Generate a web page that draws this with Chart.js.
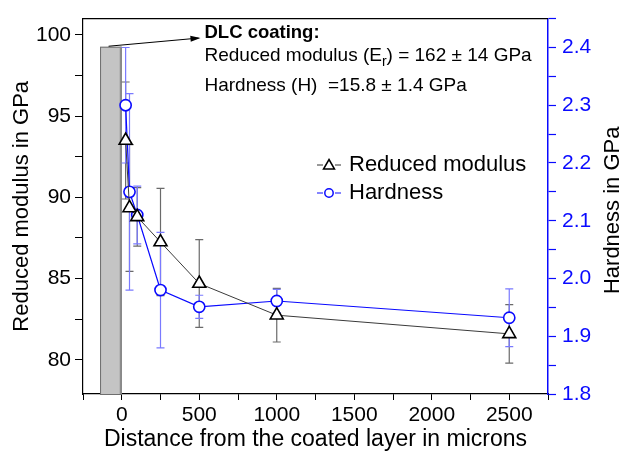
<!DOCTYPE html>
<html lang="en">
<head>
    <meta charset="UTF-8">
    <title>Reduced modulus and hardness vs distance</title>
    <script src="https://cdn.jsdelivr.net/npm/chart.js"></script>
    <style>
        html, body { margin: 0; padding: 0; background: #fff; }
        #wrap { width: 630px; height: 454px; }
    </style>
</head>
<body>
    <div id="wrap"><canvas id="chart" width="630" height="454"></canvas></div>

    <script>
        // distances from the coated layer (microns)
        const modX = [25, 50, 100, 250, 500, 1000, 2500];
        const hardX = [25, 50, 100, 250, 500, 1000, 2500];

        // reduced modulus (GPa) and its error
        const modulus = [93.5, 89.35, 88.8, 87.25, 84.7, 82.75, 81.6];
        const modErr = [3.6, 3.9, 1.8, 3.3, 2.7, 1.65, 1.8];

        // hardness (GPa) and its error
        const hardness = [2.30, 2.15, 2.11, 1.98, 1.951, 1.961, 1.932];
        const hardErr = [0.10, 0.17, 0.05, 0.10, 0.02, 0.02, 0.05];

        // coating block: x from / to (microns), top (GPa on left axis)
        const coatBox = [-140, 0, 99.27];
        // arrow from coating block to the note: [x0, y0, x1, y1]
        const coatArrow = [-85, 99.3, 495, 99.8];

        const FONT = '"Liberation Sans", Arial, sans-serif';
        const BLUE = '#0a0aff';

        const toPts = (xs, ys) => xs.map((v, i) => ({ x: v, y: ys[i] }));

        const isStep = (v, step) => Math.abs(v / step - Math.round(v / step)) < 1e-6;

        const extras = {
            id: 'extras',
            beforeDatasetsDraw(chart) {
                const { ctx, scales: { x, y } } = chart;
                // gray coating block
                const x0 = x.getPixelForValue(coatBox[0]);
                const x1 = x.getPixelForValue(coatBox[1]);
                const yt = y.getPixelForValue(coatBox[2]);
                const yb = chart.chartArea.bottom;
                ctx.save();
                ctx.fillStyle = '#c4c4c4';
                ctx.fillRect(x0, yt, x1 - x0, yb - yt);
                ctx.strokeStyle = '#6e6e6e';
                ctx.lineWidth = 1;
                ctx.strokeRect(x0 + 0.5, yt + 0.5, x1 - x0 - 1, yb - yt);
                ctx.fillStyle = '#8c8c8c';
                ctx.fillRect(x1 - 2, yt, 2, yb - yt);
                ctx.restore();

                // error bars
                chart.data.datasets.forEach((ds, i) => {
                    const sc = chart.scales[ds.yAxisID];
                    ctx.save();
                    ctx.strokeStyle = ds.errColor;
                    ctx.lineWidth = 1.2;
                    ds.data.forEach((p, j) => {
                        const px = x.getPixelForValue(p.x);
                        const hi = sc.getPixelForValue(p.y + ds.err[j]);
                        const lo = sc.getPixelForValue(p.y - ds.err[j]);
                        ctx.beginPath();
                        ctx.moveTo(px, hi); ctx.lineTo(px, lo);
                        ctx.moveTo(px - 4, hi); ctx.lineTo(px + 4, hi);
                        ctx.moveTo(px - 4, lo); ctx.lineTo(px + 4, lo);
                        ctx.stroke();
                    });
                    ctx.restore();
                });
            },
            afterDraw(chart) {
                const { ctx, chartArea: a, scales: { x, y } } = chart;
                ctx.save();
                // top frame
                ctx.strokeStyle = '#000';
                ctx.lineWidth = 1.2;
                ctx.beginPath();
                ctx.moveTo(a.left, a.top); ctx.lineTo(a.right, a.top);
                ctx.stroke();

                // right axis title, reads bottom to top
                ctx.save();
                ctx.translate(613, (a.top + a.bottom) / 2 + 4);
                ctx.rotate(-Math.PI / 2);
                ctx.textAlign = 'center';
                ctx.textBaseline = 'middle';
                ctx.fillStyle = '#000';
                ctx.font = '22px ' + FONT;
                ctx.fillText('Hardness in GPa', 0, 0);
                ctx.restore();

                // arrow
                const ax0 = x.getPixelForValue(coatArrow[0]);
                const ay0 = y.getPixelForValue(coatArrow[1]);
                const ax1 = x.getPixelForValue(coatArrow[2]);
                const ay1 = y.getPixelForValue(coatArrow[3]);
                ctx.strokeStyle = '#000';
                ctx.lineWidth = 1;
                ctx.beginPath();
                ctx.moveTo(ax0, ay0); ctx.lineTo(ax1, ay1);
                ctx.stroke();
                const ang = Math.atan2(ay1 - ay0, ax1 - ax0);
                ctx.fillStyle = '#000';
                ctx.beginPath();
                ctx.moveTo(ax1 + 2, ay1);
                ctx.lineTo(ax1 - 8 * Math.cos(ang) + 3 * Math.sin(ang), ay1 - 8 * Math.sin(ang) - 3 * Math.cos(ang));
                ctx.lineTo(ax1 - 8 * Math.cos(ang) - 3 * Math.sin(ang), ay1 - 8 * Math.sin(ang) + 3 * Math.cos(ang));
                ctx.closePath();
                ctx.fill();

                // note text
                const tx = ax1 + 6;
                ctx.textBaseline = 'middle';
                ctx.textAlign = 'left';
                ctx.font = 'bold 18.5px ' + FONT;
                ctx.fillText('DLC coating:', tx, 33);
                ctx.font = '19px ' + FONT;
                let s = 'Reduced modulus (E';
                ctx.fillText(s, tx, 56);
                let w = ctx.measureText(s).width;
                ctx.font = '14px ' + FONT;
                ctx.fillText('r', tx + w, 62);
                w += ctx.measureText('r').width;
                ctx.font = '19px ' + FONT;
                ctx.fillText(') = 162 \u00b1 14 GPa', tx + w, 56);
                ctx.fillText('Hardness (H)  =15.8 \u00b1 1.4 GPa', tx, 86);

                // legend
                const lx = 329;
                const rows = [
                    { y: 165, text: 'Reduced modulus', color: '#333', mark: 'tri', mc: '#000' },
                    { y: 193, text: 'Hardness', color: BLUE, mark: 'circ', mc: BLUE }
                ];
                rows.forEach(r => {
                    ctx.strokeStyle = r.color;
                    ctx.lineWidth = 1;
                    ctx.beginPath();
                    ctx.moveTo(lx - 12, r.y); ctx.lineTo(lx - 6, r.y);
                    ctx.moveTo(lx + 6, r.y); ctx.lineTo(lx + 12, r.y);
                    ctx.stroke();
                    ctx.strokeStyle = r.mc;
                    ctx.lineWidth = 1.5;
                    ctx.fillStyle = '#fff';
                    ctx.beginPath();
                    if (r.mark === 'tri') {
                        ctx.moveTo(lx, r.y - 5.5);
                        ctx.lineTo(lx + 5.5, r.y + 4);
                        ctx.lineTo(lx - 5.5, r.y + 4);
                        ctx.closePath();
                    } else {
                        ctx.arc(lx, r.y, 4.2, 0, Math.PI * 2);
                    }
                    ctx.fill();
                    ctx.stroke();
                    ctx.fillStyle = '#000';
                    ctx.font = '22px ' + FONT;
                    ctx.fillText(r.text, 349, r.y);
                });
                ctx.restore();
            }
        };

        new Chart(document.getElementById('chart'), {
            type: 'line',
            data: {
                datasets: [
                    {
                        label: 'Reduced modulus',
                        data: toPts(modX, modulus),
                        err: modErr,
                        errColor: '#6a6a6a',
                        yAxisID: 'y',
                        borderColor: '#3a3a3a',
                        borderWidth: 1,
                        pointStyle: 'triangle',
                        pointRadius: 7.5,
                        pointBorderWidth: 1.6,
                        pointBorderColor: '#000',
                        pointBackgroundColor: '#fff',
                        tension: 0
                    },
                    {
                        label: 'Hardness',
                        data: toPts(hardX, hardness),
                        err: hardErr,
                        errColor: '#7a7aff',
                        yAxisID: 'y1',
                        borderColor: BLUE,
                        borderWidth: 1.2,
                        pointStyle: 'circle',
                        pointRadius: 5.6,
                        pointBorderWidth: 1.6,
                        pointBorderColor: BLUE,
                        pointBackgroundColor: '#fff',
                        tension: 0
                    }
                ]
            },
            options: {
                responsive: false,
                animation: false,
                layout: { padding: { top: 13, left: 0, right: 0, bottom: 0 } },
                plugins: {
                    legend: { display: false },
                    tooltip: { enabled: false }
                },
                scales: {
                    x: {
                        type: 'linear',
                        min: -250,
                        max: 2750,
                        afterFit: s => { s.height = 60; },
                        border: { color: '#000', width: 1.2 },
                        grid: { drawOnChartArea: false, tickLength: 6, color: '#000', tickWidth: 1 },
                        ticks: {
                            stepSize: 250,
                            includeBounds: false,
                            padding: 3,
                            color: '#000',
                            font: { family: FONT, size: 21 },
                            maxRotation: 0,
                            autoSkip: false,
                            callback: v => (v >= 0 && isStep(v, 500)) ? v : ''
                        },
                        title: {
                            display: true,
                            text: 'Distance from the coated layer in microns',
                            color: '#000',
                            font: { family: FONT, size: 23 },
                            padding: { top: 0, bottom: 1 }
                        }
                    },
                    y: {
                        position: 'left',
                        min: 77.9,
                        max: 101,
                        afterFit: s => { s.width = 83; },
                        border: { color: '#000', width: 1.2 },
                        grid: { drawOnChartArea: false, tickLength: 8, color: '#000', tickWidth: 1 },
                        ticks: {
                            stepSize: 2.5,
                            includeBounds: false,
                            padding: 4,
                            color: '#000',
                            font: { family: FONT, size: 21 },
                            autoSkip: false,
                            callback: v => isStep(v, 5) ? v : ''
                        },
                        title: {
                            display: true,
                            text: 'Reduced modulus in GPa',
                            color: '#000',
                            font: { family: FONT, size: 22 },
                            padding: { top: 9, bottom: 0 }
                        }
                    },
                    y1: {
                        position: 'right',
                        min: 1.8,
                        max: 2.45,
                        afterFit: s => { s.width = 82; },
                        border: { color: BLUE, width: 1.5 },
                        grid: { drawOnChartArea: false, tickLength: 8, color: BLUE, tickWidth: 1.2 },
                        ticks: {
                            stepSize: 0.05,
                            includeBounds: false,
                            padding: 6,
                            color: BLUE,
                            font: { family: FONT, size: 21 },
                            autoSkip: false,
                            callback: v => isStep(v, 0.1) ? v.toFixed(1) : ''
                        },
                        title: { display: false }
                    }
                }
            },
            plugins: [extras]
        });
    </script>
</body>
</html>
